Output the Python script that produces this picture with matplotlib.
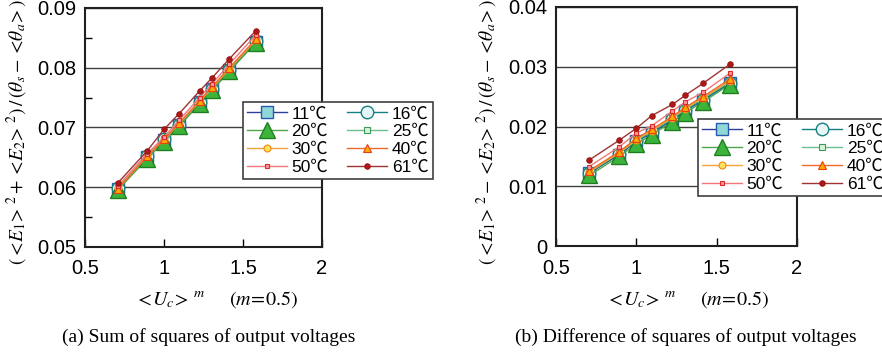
import matplotlib
matplotlib.use("Agg")
import matplotlib.pyplot as plt
from matplotlib.ticker import MultipleLocator

plt.rcParams['mathtext.fontset'] = 'stix'
plt.rcParams['font.family'] = ['Liberation Sans', 'Noto Sans CJK JP', 'DejaVu Sans']

# ---- data ----
x_vals = [0.707, 0.894, 1.0, 1.095, 1.225, 1.304, 1.414, 1.581]
labels = ['11℃', '16℃', '20℃', '25℃', '30℃', '40℃', '50℃', '61℃']

sum_11 = [0.0597, 0.0651, 0.0679, 0.0704, 0.0742, 0.0764, 0.0796, 0.0843]
sum_16 = [0.0598, 0.0652, 0.0680, 0.0705, 0.0743, 0.0765, 0.0797, 0.0845]
sum_20 = [0.0595, 0.0648, 0.0676, 0.0702, 0.0739, 0.0762, 0.0794, 0.0842]
sum_25 = [0.0599, 0.0653, 0.0681, 0.0706, 0.0744, 0.0767, 0.0799, 0.0846]
sum_30 = [0.0598, 0.0652, 0.0679, 0.0706, 0.0743, 0.0766, 0.0798, 0.0846]
sum_40 = [0.0597, 0.0652, 0.0680, 0.0707, 0.0745, 0.0768, 0.0800, 0.0848]
sum_50 = [0.0602, 0.0656, 0.0684, 0.0712, 0.0750, 0.0773, 0.0806, 0.0855]
sum_61 = [0.0607, 0.0661, 0.0697, 0.0723, 0.0761, 0.0783, 0.0815, 0.0862]

diff_11 = [0.0122, 0.0153, 0.0175, 0.0189, 0.0211, 0.0226, 0.0244, 0.0272]
diff_16 = [0.0122, 0.0154, 0.0176, 0.0190, 0.0212, 0.0227, 0.0245, 0.0273]
diff_20 = [0.0118, 0.0150, 0.0171, 0.0186, 0.0208, 0.0223, 0.0241, 0.0270]
diff_25 = [0.0124, 0.0156, 0.0177, 0.0192, 0.0214, 0.0229, 0.0247, 0.0275]
diff_30 = [0.0124, 0.0156, 0.0178, 0.0193, 0.0215, 0.0230, 0.0248, 0.0276]
diff_40 = [0.0126, 0.0158, 0.0180, 0.0195, 0.0217, 0.0232, 0.0250, 0.0279]
diff_50 = [0.0133, 0.0166, 0.0189, 0.0201, 0.0226, 0.0241, 0.0257, 0.0289]
diff_61 = [0.0144, 0.0177, 0.0197, 0.0218, 0.0237, 0.0252, 0.0272, 0.0304]

sum_series = [sum_11, sum_16, sum_20, sum_25, sum_30, sum_40, sum_50, sum_61]
diff_series = [diff_11, diff_16, diff_20, diff_25, diff_30, diff_40, diff_50, diff_61]

# ---- styles ----
styles = [
    dict(color='#2a3f9a', marker='s', ms=9, mfc='#8fd8d8', mec='#2a5ab0', mew=1.0),
    dict(color='#178080', marker='o', ms=9, mfc='#e6f6f6', mec='#178080', mew=1.0),
    dict(color='#4da84d', marker='^', ms=11, mfc='#3cb43c', mec='#1f7f1f', mew=1.0),
    dict(color='#6cc08c', marker='s', ms=4.5, mfc='#d8f4d8', mec='#3a9a5a', mew=0.8),
    dict(color='#f4a23a', marker='o', ms=5, mfc='#ffe060', mec='#f08a10', mew=0.8),
    dict(color='#f06a2a', marker='^', ms=6, mfc='#ffa800', mec='#e84010', mew=0.8),
    dict(color='#f07878', marker='s', ms=3.5, mfc='#ff9a9a', mec='#e02828', mew=0.8),
    dict(color='#a03434', marker='o', ms=4, mfc='#b01818', mec='#901010', mew=0.6),
]

fig = plt.figure(figsize=(8.82, 3.52), dpi=100)
W, H = 882.0, 352.0

def make_axes(x0, x1, ytop, ybot):
    return fig.add_axes([x0 / W, 1 - ybot / H, (x1 - x0) / W, (ybot - ytop) / H])

ax1 = make_axes(85, 322, 8, 247)
ax2 = make_axes(556, 797, 7, 246)

tick_fs = 14.5
for ax, series, ylim, minor in [(ax1, sum_series, (0.05, 0.09), True),
                                (ax2, diff_series, (0.0, 0.04), False)]:
    for s, st, lab in zip(series, styles, labels):
        ax.plot(x_vals, s, lw=1.0, label=lab, **st)
    ax.set_xlim(0.5, 2.0)
    ax.set_ylim(*ylim)
    ax.xaxis.set_major_locator(MultipleLocator(0.5))
    ax.yaxis.set_major_locator(MultipleLocator(0.01))
    if minor:
        ax.yaxis.set_minor_locator(MultipleLocator(0.005))
        ax.tick_params(axis='y', which='minor', direction='in', length=5, width=1)
    ax.tick_params(axis='both', which='major', direction='in', length=6, width=1,
                   labelsize=tick_fs, pad=6)
    ax.tick_params(axis='y', which='major', length=0, pad=6)
    ax.tick_params(axis='x', which='major', pad=9)
    ax.grid(axis='y', which='major', color='#404040', lw=1.0)
    ax.set_axisbelow(True)
    for sp in ax.spines.values():
        sp.set_linewidth(1.5)
        sp.set_color('#202020')

ax1.set_xticks([0.5, 1.0, 1.5, 2.0])
ax1.set_xticklabels(['0.5', '1', '1.5', '2'])
ax2.set_xticks([0.5, 1.0, 1.5, 2.0])
ax2.set_xticklabels(['0.5', '1', '1.5', '2'])
ax1.set_yticks([0.05, 0.06, 0.07, 0.08, 0.09])
ax1.set_yticklabels(['0.05', '0.06', '0.07', '0.08', '0.09'])
ax2.set_yticks([0.0, 0.01, 0.02, 0.03, 0.04])
ax2.set_yticklabels(['0', '0.01', '0.02', '0.03', '0.04'])

# y labels
ylab1 = r'$(<\!E_1\!>^{\,2}+<\!E_2\!>^{\,2})\,/\,(\theta_s-<\!\theta_a\!>)$'
ylab2 = r'$(<\!E_1\!>^{\,2}-<\!E_2\!>^{\,2})\,/\,(\theta_s-<\!\theta_a\!>)$'
fig.text(17 / W, 1 - 132 / H, ylab1, rotation=90, ha='center', va='center', fontsize=14)
fig.text(487 / W, 1 - 132 / H, ylab2, rotation=90, ha='center', va='center', fontsize=14)

# x labels
xlab = r'$<\!U_c\!>^{\,m}\quad\;\;\,(m\!=\!\mathrm{0.5})$'
fig.text(217 / W, 1 - 300 / H, xlab, ha='center', va='center', fontsize=14.5)
fig.text(688 / W, 1 - 300 / H, xlab, ha='center', va='center', fontsize=14.5)

# captions
cap_font = dict(family='Liberation Serif', fontsize=14)
fig.text(209 / W, 1 - 337 / H, '(a) Sum of squares of output voltages',
         ha='center', va='center', **cap_font)
fig.text(686 / W, 1 - 337 / H, '(b) Difference of squares of output voltages',
         ha='center', va='center', **cap_font)

# legends: column 1 = 11,20,30,50 ; column 2 = 16,25,40,61
order = [0, 2, 4, 6, 1, 3, 5, 7]
for ax, (lx, ly) in [(ax1, (243, 102)), (ax2, (698, 119))]:
    h, l = ax.get_legend_handles_labels()
    h = [h[i] for i in order]
    l = [l[i] for i in order]
    leg = ax.legend(h, l, ncol=2, loc='upper left',
                    bbox_to_anchor=(lx / W, 1 - ly / H), bbox_transform=fig.transFigure,
                    fontsize=12.5, frameon=True, fancybox=False, framealpha=1,
                    edgecolor='#404040', borderpad=0.25, labelspacing=0.15,
                    handlelength=2.3, handletextpad=0.25, columnspacing=1.1,
                    borderaxespad=0)
    leg.get_frame().set_linewidth(1.2)
    leg.set_zorder(10)

fig.savefig('out.png', dpi=100)
